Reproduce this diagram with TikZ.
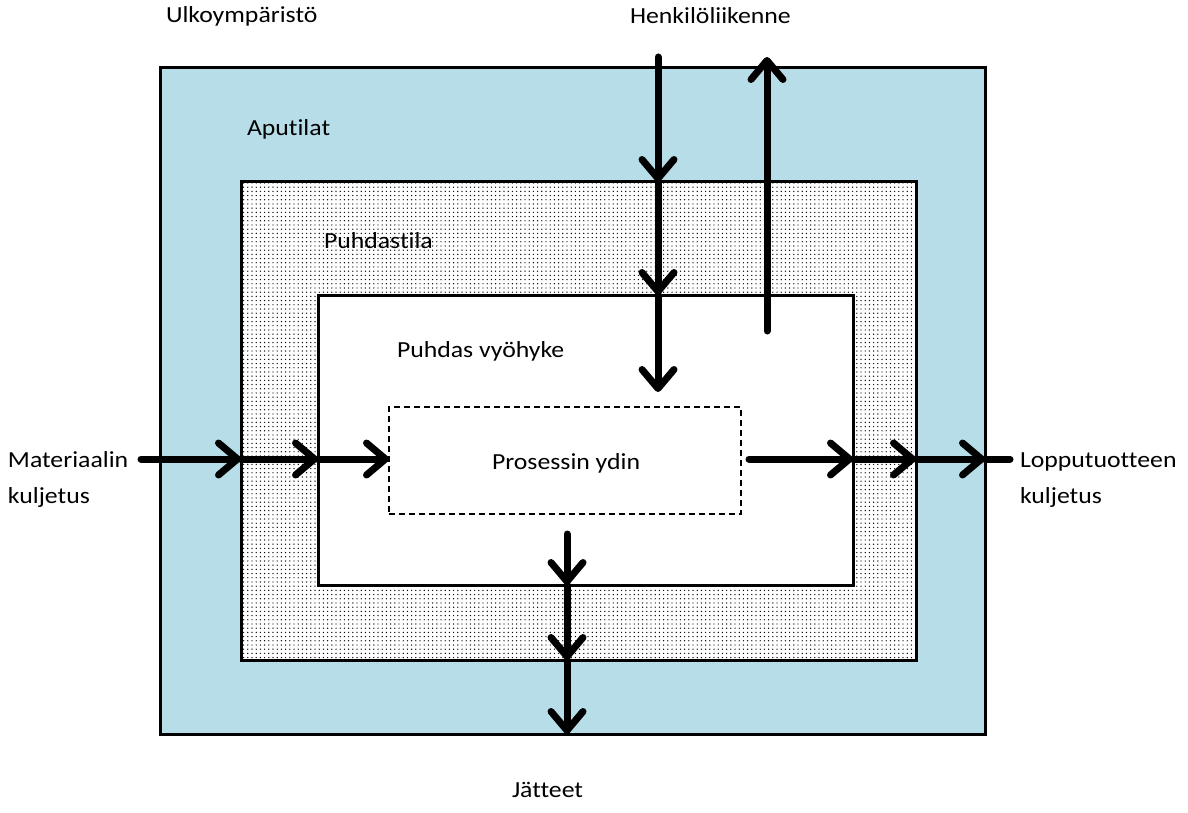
\documentclass[tikz,border=0pt]{standalone}
\usepackage{fontspec}
\setmainfont{Carlito}[FakeStretch=1.12, Ligatures={NoCommon}]
\usetikzlibrary{arrows.meta,patterns.meta}
\definecolor{aputila}{HTML}{B7DDE8}
\tikzset{
  zone/.style={draw=black, line width=3pt, outer sep=0pt, inner sep=0pt},
  corebox/.style={draw=black, line width=1.4pt, dash pattern=on 6pt off 4pt, outer sep=0pt, inner sep=0pt, fill=white},
  lbl/.style={anchor=base west, inner sep=0pt, outer sep=0pt, font=\fontsize{23}{36}\selectfont},
  flow/.style={line width=7pt, line cap=round, -{Straight Barb[length=19pt,width=32pt,line cap=round,line join=round]}},
  flowplain/.style={line width=7pt, line cap=round},
}
\begin{document}
\begin{tikzpicture}[x=1pt,y=-1pt]
\useasboundingbox (0,0) rectangle (1188,813);
% zones
\node[zone, fill=aputila, minimum width=825pt, minimum height=666pt] (outer) at (572.5,401) {};
\node[zone, fill=white, minimum width=675pt, minimum height=478pt] (mid) at (578.5,421) {};
\fill[pattern={Dots[distance=4.2pt,radius=0.7pt]}, pattern color=black] (mid.south west) rectangle (mid.north east);
\node[zone, draw=black, minimum width=675pt, minimum height=478pt] at (mid) {};
\node[zone, fill=white, minimum width=535pt, minimum height=290pt] (inner) at (585.5,440) {};
\node[corebox, minimum width=352pt, minimum height=107pt] (core) at (565,460.5) {};
% labels
\node[lbl] (lulko) at (166,23) {Ulkoympäristö};
\node[lbl] (lhenk) at (630,24) {Henkilöliikenne};
\node[lbl] (laput) at (247,136) {Aputilat};
\node[lbl] (lpuhd) at (324,248) {Puhdastila};
\node[lbl] (lvyo) at (397,357) {Puhdas vyöhyke};
\node[lbl] (lproc) at (492,469) {Prosessin ydin};
\node[lbl, align=left] (lmat) at (8,503) {Materiaalin\\kuljetus};
\node[lbl, align=left] (llop) at (1020,503) {Lopputuotteen\\kuljetus};
\node[lbl] (ljat) at (512,797) {Jätteet};
% arrow end coordinates
\coordinate (hin) at (658,57);
\coordinate (hinend) at (658,392);
\coordinate (hout) at (767,331);
\coordinate (houtend) at (767,57);
\coordinate (min) at (141,459);
\coordinate (pout) at (749,459);
\coordinate (poutend) at (1010,459);
\coordinate (jout) at (567,534);
% personnel in
\draw[flow] (hin) -- (hin |- mid.north);
\draw[flow] (hin |- mid.north) -- (hin |- inner.north);
\draw[flow] (hin |- inner.north) -- (hinend);
% personnel out
\draw[flow] (hout) -- (houtend);
% material in
\draw[flow] (min) -- (min -| mid.west);
\draw[flow] (min -| mid.west) -- (min -| inner.west);
\draw[flow] (min -| inner.west) -- (min -| core.west);
% product out
\draw[flow] (pout) -- (pout -| inner.east);
\draw[flow] (pout -| inner.east) -- (pout -| mid.east);
\draw[flow] (pout -| mid.east) -- (pout -| outer.east);
\draw[flowplain] (pout -| outer.east) -- (poutend);
% waste
\draw[flow] (jout) -- (jout |- inner.south);
\draw[flow] (jout |- inner.south) -- (jout |- mid.south);
\draw[flow] (jout |- mid.south) -- (jout |- outer.south);
\end{tikzpicture}
\end{document}
